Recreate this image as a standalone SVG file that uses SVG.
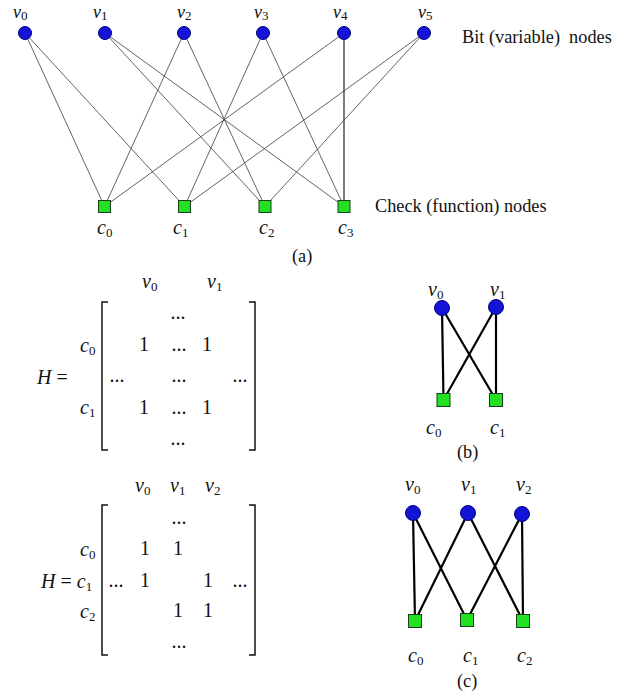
<svg xmlns="http://www.w3.org/2000/svg" width="621" height="696" viewBox="0 0 621 696" font-family="'Liberation Serif', 'DejaVu Serif', serif">
<style>
text{font-family:"Liberation Serif","DejaVu Serif",serif;fill:#111}
.it{font-style:italic}
.sub{font-style:normal;font-size:13px}
.bit{fill:#1414d6;stroke:#000080;stroke-width:1}
.chk{fill:#22e022;stroke:#1c3c1c;stroke-width:1}
.thin{stroke:#3c3c3c;stroke-width:0.8;fill:none}
.solid{stroke:#111;stroke-width:1.1;fill:none}
.thick{stroke:#000;stroke-width:2.2;fill:none}
.brk{stroke:#111;stroke-width:1.5;fill:none}
.m{font-size:20px}
.lab{font-size:20px}
.top{font-size:18px}
.cap{font-size:18.3px}
</style>
<rect width="621" height="696" fill="#fff"/>

<!-- (a) connectors -->
<g id="connectors-a">
<line class="thin" x1="25" y1="33" x2="104.5" y2="206.5"/>
<line class="thin" x1="25" y1="33" x2="184.5" y2="206.5"/>
<line class="thin" x1="105" y1="33" x2="265" y2="206.5"/>
<line class="thin" x1="105" y1="33" x2="344" y2="206.5"/>
<line class="thin" x1="184" y1="33" x2="104.5" y2="206.5"/>
<line class="thin" x1="184" y1="33" x2="265" y2="206.5"/>
<line class="thin" x1="263" y1="33" x2="184.5" y2="206.5"/>
<line class="thin" x1="263" y1="33" x2="344" y2="206.5"/>
<line class="thin" x1="344" y1="33" x2="104.5" y2="206.5"/>
<line class="solid" x1="344" y1="33" x2="344" y2="206.5"/>
<line class="thin" x1="424" y1="33" x2="184.5" y2="206.5"/>
<line class="thin" x1="424" y1="33" x2="265" y2="206.5"/>
</g>

<!-- (a) bit nodes -->
<g id="a-v0"><circle class="bit" cx="25" cy="33" r="6.5"/><text class="top it" x="13" y="18">v<tspan class="sub" dy="2">0</tspan></text></g>
<g id="a-v1"><circle class="bit" cx="105" cy="33" r="6.5"/><text class="top it" x="93" y="18">v<tspan class="sub" dy="2">1</tspan></text></g>
<g id="a-v2"><circle class="bit" cx="184" cy="33" r="6.5"/><text class="top it" x="177" y="18">v<tspan class="sub" dy="2">2</tspan></text></g>
<g id="a-v3"><circle class="bit" cx="263" cy="33" r="6.5"/><text class="top it" x="254" y="18">v<tspan class="sub" dy="2">3</tspan></text></g>
<g id="a-v4"><circle class="bit" cx="344" cy="33" r="6.5"/><text class="top it" x="333" y="18">v<tspan class="sub" dy="2">4</tspan></text></g>
<g id="a-v5"><circle class="bit" cx="424" cy="33" r="6.5"/><text class="top it" x="418" y="18">v<tspan class="sub" dy="2">5</tspan></text></g>
<text class="cap" x="462" y="43" xml:space="preserve">Bit (variable)  nodes</text>

<!-- (a) check nodes -->
<g id="a-c0"><rect class="chk" x="98.5" y="200.5" width="12" height="12"/><text class="lab it" x="97" y="234">c<tspan class="sub" dy="3">0</tspan></text></g>
<g id="a-c1"><rect class="chk" x="178.5" y="200.5" width="12" height="12"/><text class="lab it" x="173" y="234">c<tspan class="sub" dy="3">1</tspan></text></g>
<g id="a-c2"><rect class="chk" x="259" y="200.5" width="12" height="12"/><text class="lab it" x="259" y="234">c<tspan class="sub" dy="3">2</tspan></text></g>
<g id="a-c3"><rect class="chk" x="338" y="200.5" width="12" height="12"/><text class="lab it" x="338" y="234">c<tspan class="sub" dy="3">3</tspan></text></g>
<text class="cap" x="375" y="212">Check (function) nodes</text>
<text class="cap" x="292" y="262">(a)</text>

<!-- (b) matrix -->
<g id="matrix-b">
<text class="m" x="37" y="384"><tspan class="it">H</tspan> =</text>
<path class="brk" d="M108,302 H102 V450 H108"/>
<path class="brk" d="M249,302 H255 V450 H249"/>
<text class="m it" x="142" y="288">v<tspan class="sub" dy="3">0</tspan></text>
<text class="m it" x="207" y="288">v<tspan class="sub" dy="3">1</tspan></text>
<text class="m it" x="80" y="352">c<tspan class="sub" dy="3">0</tspan></text>
<text class="m it" x="80" y="414">c<tspan class="sub" dy="3">1</tspan></text>
<g class="m" text-anchor="middle" font-size="18">
<text x="178" y="319">...</text>
<text x="144" y="351">1</text><text x="179" y="351">...</text><text x="207" y="351">1</text>
<text x="117" y="382">...</text><text x="179" y="382">...</text><text x="240" y="382">...</text>
<text x="144" y="414">1</text><text x="179" y="414">...</text><text x="207" y="414">1</text>
<text x="178" y="445">...</text>
</g>
</g>

<!-- (b) graph -->
<g id="connectors-b">
<line class="thick" x1="442" y1="308" x2="443.5" y2="400"/>
<line class="thick" x1="442" y1="308" x2="496" y2="400"/>
<line class="thick" x1="496" y1="307" x2="443.5" y2="400"/>
<line class="thick" x1="496" y1="307" x2="496" y2="400"/>
</g>
<g id="b-v0"><circle class="bit" cx="442" cy="308" r="7.5"/><text class="lab it" x="428" y="296">v<tspan class="sub" dy="3">0</tspan></text></g>
<g id="b-v1"><circle class="bit" cx="496" cy="307" r="7.5"/><text class="lab it" x="490" y="296">v<tspan class="sub" dy="3">1</tspan></text></g>
<g id="b-c0"><rect class="chk" x="437" y="393.5" width="13" height="13"/><text class="lab it" x="426" y="434">c<tspan class="sub" dy="3">0</tspan></text></g>
<g id="b-c1"><rect class="chk" x="489.5" y="393.5" width="13" height="13"/><text class="lab it" x="490" y="434">c<tspan class="sub" dy="3">1</tspan></text></g>
<text class="cap" x="457" y="458">(b)</text>

<!-- (c) matrix -->
<g id="matrix-c">
<path class="brk" d="M108,505 H102 V655 H108"/>
<path class="brk" d="M249,505 H255 V655 H249"/>
<text class="m it" x="135" y="492">v<tspan class="sub" dy="3">0</tspan></text>
<text class="m it" x="170" y="492">v<tspan class="sub" dy="3">1</tspan></text>
<text class="m it" x="205" y="492">v<tspan class="sub" dy="3">2</tspan></text>
<text class="m it" x="80" y="556">c<tspan class="sub" dy="3">0</tspan></text>
<text class="m" x="41" y="588"><tspan class="it">H</tspan> = <tspan class="it">c</tspan><tspan class="sub" dy="3">1</tspan></text>
<text class="m it" x="80" y="618">c<tspan class="sub" dy="3">2</tspan></text>
<g class="m" text-anchor="middle">
<text x="179" y="524">...</text>
<text x="145" y="555">1</text><text x="178" y="555">1</text>
<text x="116" y="587">...</text><text x="145" y="587">1</text><text x="208" y="587">1</text><text x="240" y="587">...</text>
<text x="178" y="617">1</text><text x="208" y="617">1</text>
<text x="179" y="648">...</text>
</g>
</g>

<!-- (c) graph -->
<g id="connectors-c">
<line class="thick" x1="413" y1="513" x2="415" y2="621"/>
<line class="thick" x1="413" y1="513" x2="467" y2="620"/>
<line class="thick" x1="468" y1="513" x2="415" y2="621"/>
<line class="thick" x1="468" y1="513" x2="523" y2="621"/>
<line class="thick" x1="522" y1="514" x2="467" y2="620"/>
<line class="thick" x1="522" y1="514" x2="523" y2="621"/>
</g>
<g id="c-v0"><circle class="bit" cx="413" cy="513" r="7.5"/><text class="lab it" x="405" y="491">v<tspan class="sub" dy="3">0</tspan></text></g>
<g id="c-v1"><circle class="bit" cx="468" cy="513" r="7.5"/><text class="lab it" x="461" y="491">v<tspan class="sub" dy="3">1</tspan></text></g>
<g id="c-v2"><circle class="bit" cx="522" cy="514" r="7.5"/><text class="lab it" x="516" y="491">v<tspan class="sub" dy="3">2</tspan></text></g>
<g id="c-c0"><rect class="chk" x="408.5" y="614.5" width="13" height="13"/><text class="lab it" x="408" y="662">c<tspan class="sub" dy="3">0</tspan></text></g>
<g id="c-c1"><rect class="chk" x="460.5" y="613.5" width="13" height="13"/><text class="lab it" x="463" y="662">c<tspan class="sub" dy="3">1</tspan></text></g>
<g id="c-c2"><rect class="chk" x="516.5" y="614.5" width="13" height="13"/><text class="lab it" x="517" y="662">c<tspan class="sub" dy="3">2</tspan></text></g>
<text class="cap" x="457" y="687">(c)</text>
</svg>
